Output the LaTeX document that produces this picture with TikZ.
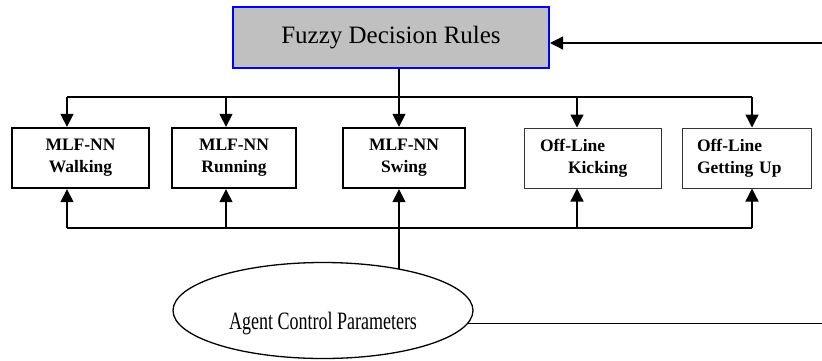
\documentclass[tikz,border=0pt]{standalone}
\usepackage{fontspec}
\setmainfont{Liberation Serif}
\usetikzlibrary{arrows.meta,shapes.geometric}

\tikzset{
  conn/.style={line width=1.3pt, black},
  arr/.style={conn, -{Triangle[length=13pt,width=13pt]}},
  nnbox/.style={draw, line width=2.3pt, minimum height=60pt, inner sep=0pt,
    align=center, font=\fontsize{17.5}{22}\selectfont\bfseries},
  offbox/.style={draw=black!80, line width=1pt, minimum height=60pt, inner ysep=0pt,
    align=left, font=\fontsize{17.5}{22}\selectfont\bfseries},
  rulebox/.style={draw=blue, fill={rgb,255:red,192;green,192;blue,192}, line width=2pt,
    minimum width=316pt, minimum height=61pt, font=\fontsize{25}{28}\selectfont},
  agent/.style={draw, ellipse, line width=1.3pt, minimum width=300pt, minimum height=96pt,
    inner sep=0pt, font=\fontsize{25}{28}\selectfont}
}

\begin{document}
\begin{tikzpicture}[x=1pt, y=-1pt]
  \useasboundingbox (0,0) rectangle (822,360);

  % decision rules and the five behaviour modules
  \node[rulebox] (fdr) at (391,37.8) {Fuzzy Decision Rules};
  \node[nnbox, minimum width=137pt] (walk) at (80.5,158) {MLF-NN\\Walking};
  \node[nnbox, minimum width=124pt] (run)  at (234,158)  {MLF-NN\\Running};
  \node[nnbox, minimum width=122pt] (swing) at (404,158) {MLF-NN\\Swing};
  \node[offbox, text width=105pt, inner xsep=16pt] (kick) at (592.5,158)
    {Off-Line\\\hspace*{28pt}Kicking};
  \node[offbox, text width=99pt, inner xsep=15pt] (getup) at (746.5,158)
    {Off-Line\\Getting Up};

  % parameter source (its label sits a little below the centre)
  \node[agent] (ag) at (323,310.5)
    {\smash{\raisebox{-19pt}{\scalebox{0.72}[1]{Agent Control Parameters}}}};

  % bus points
  \coordinate (t1) at (67,97);
  \coordinate (t2) at (226,97);
  \coordinate (t3) at (399,97);
  \coordinate (t4) at (577,97);
  \coordinate (t5) at (752,97);
  \coordinate (b1) at (67,228);
  \coordinate (b2) at (226,228);
  \coordinate (b4) at (577,228);
  \coordinate (b5) at (752,228);
  \coordinate (ea) at (399,268.5);
  \coordinate (rt) at (822,43);
  \coordinate (rb) at (822,324);
  \coordinate (ae) at (ag.-5.6);

  % distribution from the rules
  \draw[conn] (t3 |- fdr.south) -- (t3);
  \draw[conn] (t1) -- (t5);
  \draw[arr] (t1) -- (t1 |- walk.north);
  \draw[arr] (t2) -- (t2 |- run.north);
  \draw[arr] (t3) -- (t3 |- swing.north);
  \draw[arr] (t4) -- (t4 |- kick.north);
  \draw[arr] (t5) -- (t5 |- getup.north);

  % feedback bus below the modules
  \draw[conn] (b1) -- (b5);
  \draw[arr] (b1) -- (b1 |- walk.south);
  \draw[arr] (b2) -- (b2 |- run.south);
  \draw[arr] (b4) -- (b4 |- kick.south);
  \draw[arr] (b5) -- (b5 |- getup.south);
  \draw[arr] (ea) -- (ea |- swing.south);

  % loop back to the rules
  \draw[conn] (ae) -- (ae -| rb);
  \draw[arr] (rt) -- (rt -| fdr.east);
\end{tikzpicture}
\end{document}
